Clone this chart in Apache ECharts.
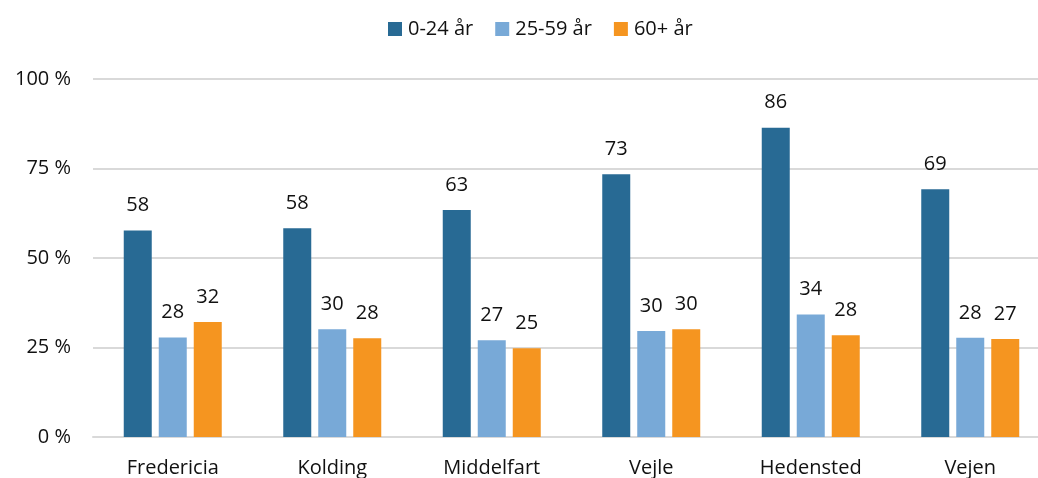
<!DOCTYPE html>
<html>
<head>
<meta charset="utf-8">
<script src="https://cdn.jsdelivr.net/npm/echarts@6/dist/echarts.min.js"></script>
<style>
  html, body { margin: 0; padding: 0; background: #fff; overflow: hidden; }
  #chart { width: 1050px; height: 478px; }
</style>
</head>
<body>
<div id="chart"></div>
<script>
// kommuner
const categories = ["Fredericia", "Kolding", "Middelfart", "Vejle", "Hedensted", "Vejen"];
const seriesNames = ["0-24 år", "25-59 år", "60+ år"];
// andel i procent
const young = [57.7, 58.3, 63.4, 73.4, 86.4, 69.2];
const middle = [27.8, 30.1, 27.0, 29.6, 34.2, 27.7];
const old = [32.1, 27.6, 24.8, 30.1, 28.4, 27.4];
const yTicks = [0, 25, 50, 75, 100];

const colors = ["#286a94", "#78a9d7", "#f59520"];
const font = "'Open Sans', 'Noto Sans', sans-serif";

// plot area runs past the right window edge, so the div is a bit wider than the page
const chart = echarts.init(document.getElementById("chart"));

function barSeries(name, data, idx) {
  return {
    name: name,
    type: "bar",
    barWidth: 28,
    barGap: "25%",
    data: data,
    itemStyle: { color: colors[idx] },
    label: {
      show: true,
      position: "top",
      distance: 15,
      color: "#111",
      fontSize: 20,
      fontFamily: font,
      formatter: (p) => Math.round(p.value),
    },
  };
}

chart.setOption({
  animation: false,
  textStyle: { fontFamily: font },
  legend: {
    data: seriesNames,
    top: 14,
    left: 383,
    itemWidth: 14,
    itemHeight: 14,
    itemGap: 22,
    icon: "rect",
    textStyle: { fontSize: 20, color: "#111", fontFamily: font, padding: [0, 0, 0, 1] },
  },
  grid: {
    left: 93,
    top: 79,
    right: 0,
    height: 358,
    containLabel: false,
  },
  xAxis: {
    type: "category",
    data: categories,
    axisTick: { show: false },
    axisLine: { lineStyle: { color: "#d9d9d9", width: 2 } },
    axisLabel: { fontSize: 20, color: "#111", margin: 21, fontFamily: font },
  },
  yAxis: {
    type: "value",
    min: yTicks[0],
    max: yTicks[yTicks.length - 1],
    interval: 25,
    axisLine: { show: false },
    axisTick: { show: false },
    splitLine: { lineStyle: { color: "#d9d9d9", width: 2 } },
    axisLabel: {
      fontSize: 20,
      color: "#111",
      margin: 22,
      fontFamily: font,
      formatter: (v) => v + " %",
    },
  },
  series: [
    barSeries(seriesNames[0], young, 0),
    barSeries(seriesNames[1], middle, 1),
    barSeries(seriesNames[2], old, 2),
  ],
});
</script>
</body>
</html>
